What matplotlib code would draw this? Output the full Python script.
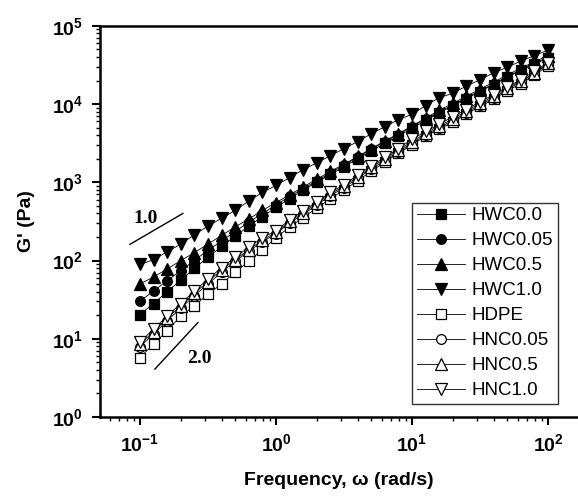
import numpy as np
import matplotlib
matplotlib.use('Agg')
import matplotlib.pyplot as plt
import matplotlib.ticker as mticker

# frequency points, 10 per decade from 0.1 to 100 rad/s
freq = [0.1, 0.126, 0.158, 0.2, 0.251, 0.316, 0.398, 0.501, 0.631, 0.794,
        1.0, 1.26, 1.58, 2.0, 2.51, 3.16, 3.98, 5.01, 6.31, 7.94,
        10.0, 12.6, 15.8, 20.0, 25.1, 31.6, 39.8, 50.1, 63.1, 79.4, 100.0]

# log10(G')
hwc00 = [1.31, 1.45, 1.60, 1.75, 1.90, 2.04, 2.18, 2.31, 2.44, 2.56, 2.68,
         2.79, 2.90, 3.00, 3.10, 3.20, 3.30, 3.40, 3.50, 3.59, 3.69,
         3.79, 3.89, 3.98, 4.07, 4.16, 4.25, 4.34, 4.43, 4.51, 4.59]
hwc005 = [1.48, 1.61, 1.74, 1.87, 2.00, 2.13, 2.25, 2.37, 2.49, 2.60, 2.71,
          2.82, 2.92, 3.02, 3.12, 3.22, 3.32, 3.42, 3.52, 3.61, 3.71,
          3.81, 3.90, 3.99, 4.08, 4.17, 4.26, 4.35, 4.44, 4.52, 4.60]
hwc05 = [1.70, 1.79, 1.89, 2.00, 2.10, 2.21, 2.32, 2.43, 2.53, 2.64, 2.74,
         2.84, 2.94, 3.04, 3.14, 3.23, 3.33, 3.43, 3.53, 3.62, 3.72,
         3.82, 3.92, 4.01, 4.10, 4.19, 4.28, 4.37, 4.46, 4.54, 4.62]
hwc10 = [1.95, 2.01, 2.11, 2.21, 2.33, 2.44, 2.54, 2.64, 2.76, 2.87, 2.96,
         3.06, 3.16, 3.25, 3.34, 3.43, 3.52, 3.62, 3.71, 3.80, 3.87,
         3.98, 4.08, 4.14, 4.23, 4.31, 4.40, 4.47, 4.55, 4.62, 4.69]
hdpe = [0.76, 0.93, 1.10, 1.29, 1.42, 1.57, 1.70, 1.85, 1.99, 2.14, 2.29,
        2.43, 2.55, 2.67, 2.79, 2.90, 3.02, 3.14, 3.26, 3.37, 3.48,
        3.59, 3.68, 3.77, 3.87, 3.97, 4.06, 4.17, 4.26, 4.37, 4.49]
hnc005 = [0.90, 1.06, 1.23, 1.39, 1.55, 1.70, 1.85, 1.99, 2.12, 2.24, 2.34,
          2.48, 2.59, 2.71, 2.83, 2.93, 3.05, 3.17, 3.28, 3.39, 3.50,
          3.61, 3.70, 3.79, 3.89, 3.99, 4.08, 4.19, 4.28, 4.39, 4.51]
hnc05 = [0.93, 1.09, 1.26, 1.42, 1.58, 1.73, 1.88, 2.01, 2.14, 2.26, 2.36,
         2.50, 2.61, 2.73, 2.85, 2.95, 3.07, 3.19, 3.30, 3.41, 3.52,
         3.63, 3.72, 3.81, 3.91, 4.01, 4.10, 4.21, 4.29, 4.40, 4.52]
hnc10 = [0.96, 1.12, 1.29, 1.45, 1.61, 1.76, 1.91, 2.04, 2.17, 2.29, 2.38,
         2.52, 2.63, 2.75, 2.87, 2.97, 3.09, 3.21, 3.32, 3.43, 3.55,
         3.65, 3.74, 3.84, 3.93, 4.03, 4.12, 4.22, 4.31, 4.42, 4.53]

labels = ['HWC0.0', 'HWC0.05', 'HWC0.5', 'HWC1.0', 'HDPE', 'HNC0.05', 'HNC0.5', 'HNC1.0']
series = [hwc00, hwc005, hwc05, hwc10, hdpe, hnc005, hnc05, hnc10]
markers = ['s', 'o', '^', 'v', 's', 'o', '^', 'v']
filled = [True, True, True, True, False, False, False, False]

# slope guide lines (x pairs, y pairs) and their labels
slope1_x = [0.0845, 0.207]
slope1_y = [161, 400]
slope2_x = [0.129, 0.267]
slope2_y = [4.1, 16.1]

fig = plt.figure(figsize=(5.78, 4.97), dpi=100)
ax = fig.add_axes([0.173, 0.161, 0.827, 0.787])

for y, lab, m, f in zip(series, labels, markers, filled):
    ax.plot(freq, 10 ** np.array(y), color='black', linewidth=0.6,
            marker=m, markersize=8 if m in ['^', 'v'] else 7,
            markerfacecolor='black' if f else 'white',
            markeredgecolor='black', markeredgewidth=0.9, label=lab)

ax.plot(slope1_x, slope1_y, color='black', linewidth=1.0)
ax.plot(slope2_x, slope2_y, color='black', linewidth=1.0)
ax.text(0.111, 345, '1.0', family='Liberation Serif', fontweight='bold',
        fontsize=14, ha='center', va='center')
ax.text(0.275, 5.6, '2.0', family='Liberation Serif', fontweight='bold',
        fontsize=14, ha='center', va='center')

ax.set_xscale('log')
ax.set_yscale('log')
ax.set_xlim(0.0509, 166)
ax.set_ylim(1, 1e5)

ax.spines['right'].set_visible(False)
for s in ['left', 'bottom', 'top']:
    ax.spines[s].set_linewidth(1.8)

ax.xaxis.set_major_locator(mticker.LogLocator(base=10, numticks=10))
ax.yaxis.set_major_locator(mticker.LogLocator(base=10, numticks=10))
ax.xaxis.set_minor_locator(mticker.LogLocator(base=10, subs=np.arange(2, 10), numticks=20))
ax.yaxis.set_minor_locator(mticker.LogLocator(base=10, subs=np.arange(2, 10), numticks=20))
ax.tick_params(which='major', direction='out', length=6, width=1.5,
               labelsize=14, pad=6)
ax.tick_params(which='minor', direction='out', length=3, width=1.0)
ax.tick_params(axis='x', which='both', top=False)
for t in ax.get_xticklabels() + ax.get_yticklabels():
    t.set_fontweight('bold')
    t.set_family('Liberation Sans')

ax.set_xlabel('Frequency, \u03c9 (rad/s)', family='Liberation Sans',
              fontweight='bold', fontsize=14, labelpad=12)
ax.set_ylabel("G' (Pa)", family='Liberation Sans', fontweight='bold',
              fontsize=14, labelpad=12)

leg = ax.legend(loc='upper left', bbox_to_anchor=(0.6525, 0.548),
                frameon=True, fancybox=False, edgecolor='black',
                handlelength=2.6, handletextpad=0.35,
                borderpad=0.25, borderaxespad=0, labelspacing=0.42,
                prop={'family': 'Liberation Sans', 'size': 13.5})
leg.get_frame().set_linewidth(1.0)

fig.savefig('out.png', dpi=100)
